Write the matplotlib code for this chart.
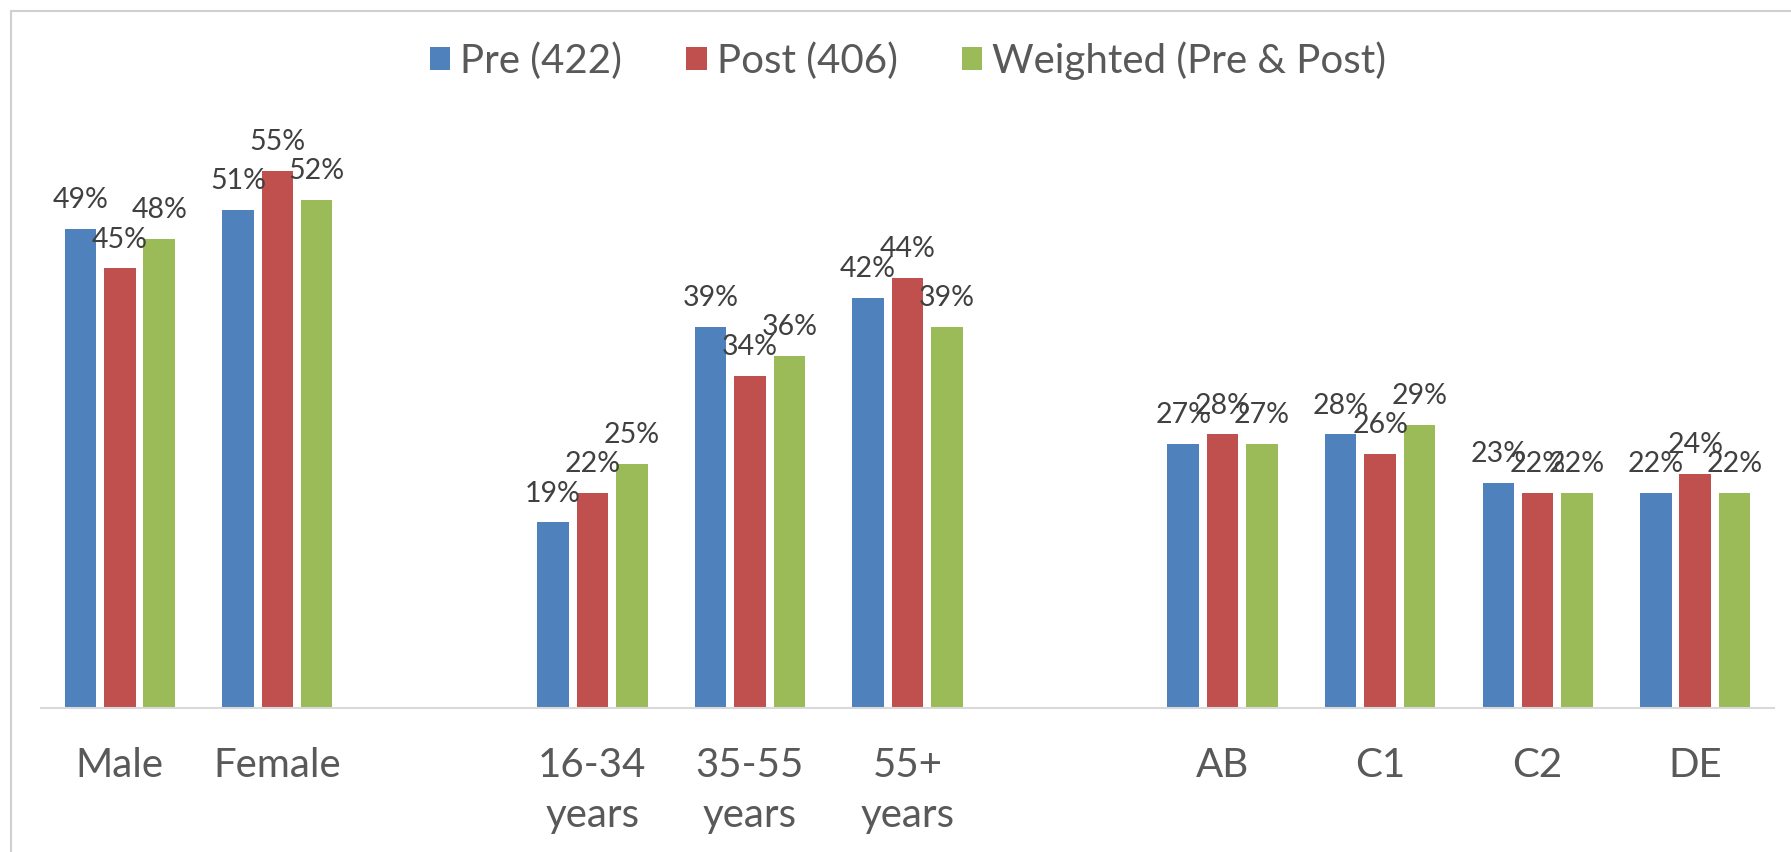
import numpy as np
import matplotlib
matplotlib.use("Agg")
import matplotlib.pyplot as plt
from matplotlib.patches import Rectangle

plt.rcParams['font.family'] = ['Lato', 'DejaVu Sans']

# categories, blanks are the gaps between the groups
cats = ['Male', 'Female', '', '16-34\nyears', '35-55\nyears', '55+\nyears', '',
        'AB', 'C1', 'C2', 'DE']
pre = [49, 51, np.nan, 19, 39, 42, np.nan, 27, 28, 23, 22]
post = [45, 55, np.nan, 22, 34, 44, np.nan, 28, 26, 22, 24]
weighted = [48, 52, np.nan, 25, 36, 39, np.nan, 27, 29, 22, 22]
series_names = ['Pre (422)', 'Post (406)', 'Weighted (Pre & Post)']
pltt = ['#4F81BD', '#C0504D', '#9BBB59']

fig = plt.figure(figsize=(17.91, 8.52), dpi=100)
ax = fig.add_axes([0.0229, 0.169, 0.9676, 0.688])

X = np.arange(len(cats))
w = 0.2
offs = [-0.25, 0, 0.25]
for i, vals in enumerate([pre, post, weighted]):
    vals = np.array(vals, dtype=float)
    ax.bar(X + offs[i], vals, width=w, color=pltt[i], label=series_names[i])
    for xx, v in zip(X + offs[i], vals):
        if np.isnan(v):
            continue
        ax.annotate('%d%%' % v, (xx, v), xytext=(0, 15), textcoords='offset points',
                    ha='center', va='baseline', fontsize=20.5, color='#404040')

ax.set_xlim(-0.5, len(cats) - 0.5)
ax.set_ylim(0, 60)
ax.set_yticks([])
ax.set_xticks(X)
ax.set_xticklabels(cats, fontsize=29, color='#595959', linespacing=1.45)
ax.tick_params(axis='x', length=0, pad=28)
for s in ['top', 'right', 'left']:
    ax.spines[s].set_visible(False)
ax.spines['bottom'].set_color('#d9d9d9')
ax.spines['bottom'].set_linewidth(1.5)

leg = fig.legend(loc='center', bbox_to_anchor=(0.507, 0.929), ncol=3, frameon=False,
                 fontsize=29, handlelength=0.5, handleheight=0.5, handletextpad=0.25,
                 columnspacing=1.6)
for t in leg.get_texts():
    t.set_color('#595959')

# chart frame (only left and top edges are inside the picture)
fig.add_artist(Rectangle((11 / 1791, -0.5), 2, 0.5 + 841 / 852, transform=fig.transFigure,
                         fill=False, edgecolor='#d0d0d0', linewidth=1.5))

plt.savefig('out.png', dpi=100)
